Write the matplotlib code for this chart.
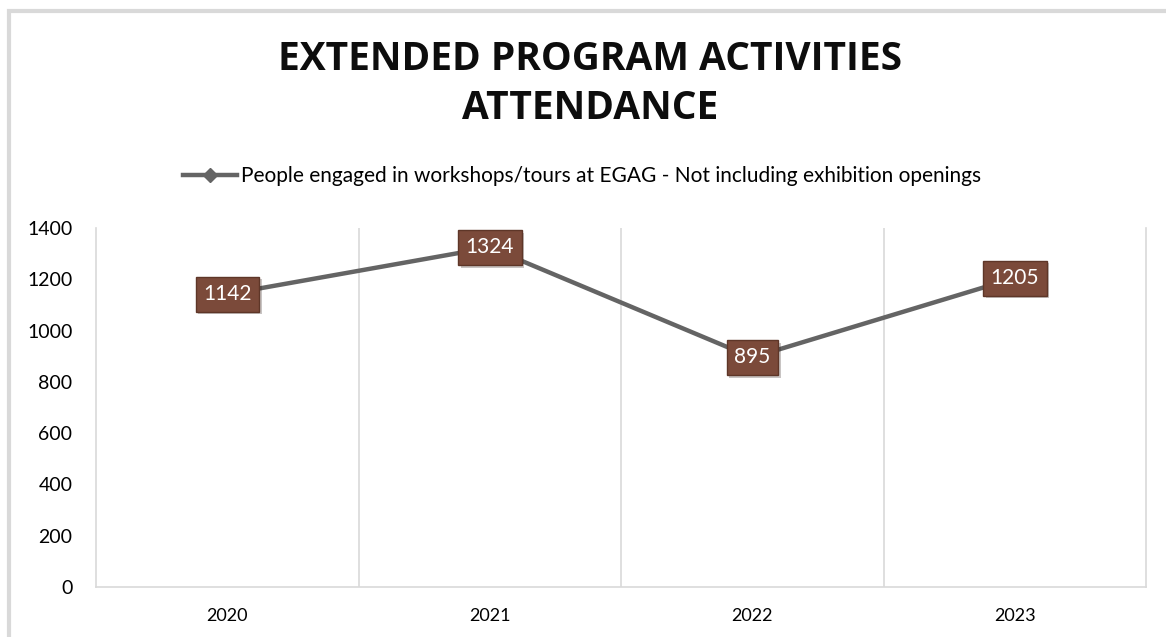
import matplotlib
matplotlib.use("Agg")
import matplotlib.pyplot as plt
from matplotlib.lines import Line2D
from matplotlib.patches import Rectangle
from matplotlib import patheffects

years = ["2020", "2021", "2022", "2023"]
attendance = [1142, 1324, 895, 1205]
y_ticks = [0, 200, 400, 600, 800, 1000, 1200, 1400]
series_name = "People engaged in workshops/tours at EGAG - Not including exhibition openings"
title = "EXTENDED PROGRAM ACTIVITIES\nATTENDANCE"

plt.rcParams['font.family'] = ['Lato', 'DejaVu Sans']

fig = plt.figure(figsize=(11.66, 6.37), dpi=100)
fig.patch.set_facecolor('white')

# outer chart frame (partly cropped on right/bottom)
W, H = 1166, 637
fig.patches.append(Rectangle((9 / W, -0.05), 1.2, (H - 11) / H + 0.05,
                             transform=fig.transFigure, fill=False,
                             edgecolor='#d9d9d9', linewidth=3, zorder=0))

ax = fig.add_axes([96 / W, 1 - 587 / H, (1146 - 96) / W, (587 - 228) / H])
x = list(range(len(years)))
line_color = '#646464'
ax.plot(x, attendance, color=line_color, linewidth=3.2, marker='D',
        markersize=7, zorder=3)

for xi, v in zip(x, attendance):
    t = ax.text(xi, v, str(v), ha='center', va='center', color='white',
                fontsize=15, zorder=5,
                bbox=dict(boxstyle='square,pad=0.36', facecolor='#7b4a3a',
                          edgecolor='#5e3628', linewidth=1.0))
    t.get_bbox_patch().set_path_effects(
        [patheffects.withSimplePatchShadow(offset=(2, -2), alpha=0.25)])

ax.set_xlim(-0.5, len(years) - 0.5)
ax.set_ylim(0, 1400)
ax.set_yticks(y_ticks)
ax.set_yticklabels([str(t) for t in y_ticks])
ax.set_xticks(x)
ax.set_xticklabels(years)
ax.set_xticks([i + 0.5 for i in range(len(years) - 1)], minor=True)
ax.grid(which='minor', axis='x', color='#d9d9d9', linewidth=1.2)
ax.tick_params(axis='both', which='both', length=0)
ax.tick_params(axis='y', labelsize=14, pad=17)
ax.tick_params(axis='x', labelsize=13, pad=15)
for s in ['left', 'right', 'bottom']:
    ax.spines[s].set_color('#d9d9d9')
    ax.spines[s].set_linewidth(1.2)
ax.spines['top'].set_visible(False)

fig.text(590 / W, 1 - 84 / H, title, ha='center', va='center',
         fontsize=28, fontweight='bold', color='#0d0d0d',
         linespacing=1.36, family=['Open Sans', 'DejaVu Sans'])

handle = Line2D([], [], color=line_color, linewidth=3.2, marker='D',
                markersize=7)
fig.legend([handle], [series_name], loc='center',
           bbox_to_anchor=(582 / W, 1 - 176 / H), frameon=False,
           fontsize=15, handlelength=2.6, handletextpad=0.2)

fig.savefig('out.png', dpi=100, facecolor='white')
